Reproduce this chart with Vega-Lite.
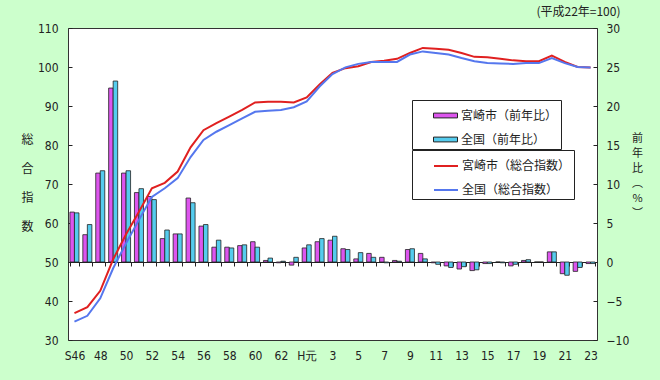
{
  "$schema": "https://vega.github.io/schema/vega-lite/v6.json",
  "width": 529,
  "height": 312,
  "autosize": {"type": "none"},
  "padding": {"left": 68, "top": 28, "right": 63, "bottom": 40},
  "background": "#CCFFCC",
  "config": {
    "view": {"stroke": "#333", "strokeWidth": 1, "fill": "#ffffff"},
    "font": "Noto Sans CJK JP"
  },
  "title": {
    "text": "(平成22年=100)",
    "anchor": "end",
    "dx": -22,
    "offset": 3,
    "font": "Noto Sans CJK JP",
    "fontSize": 12,
    "fontWeight": "normal",
    "color": "#222"
  },
  "datasets": {
    "bars": [
      {"year": "S46", "series": "宮崎市（前年比）", "value": 6.4}, {"year": "S46", "series": "全国（前年比）", "value": 6.3},
      {"year": "47", "series": "宮崎市（前年比）", "value": 3.5}, {"year": "47", "series": "全国（前年比）", "value": 4.8},
      {"year": "48", "series": "宮崎市（前年比）", "value": 11.4}, {"year": "48", "series": "全国（前年比）", "value": 11.7},
      {"year": "49", "series": "宮崎市（前年比）", "value": 22.3}, {"year": "49", "series": "全国（前年比）", "value": 23.2},
      {"year": "50", "series": "宮崎市（前年比）", "value": 11.4}, {"year": "50", "series": "全国（前年比）", "value": 11.7},
      {"year": "51", "series": "宮崎市（前年比）", "value": 8.9}, {"year": "51", "series": "全国（前年比）", "value": 9.4},
      {"year": "52", "series": "宮崎市（前年比）", "value": 8.4}, {"year": "52", "series": "全国（前年比）", "value": 8.0},
      {"year": "53", "series": "宮崎市（前年比）", "value": 3.0}, {"year": "53", "series": "全国（前年比）", "value": 4.1},
      {"year": "54", "series": "宮崎市（前年比）", "value": 3.6}, {"year": "54", "series": "全国（前年比）", "value": 3.6},
      {"year": "55", "series": "宮崎市（前年比）", "value": 8.2}, {"year": "55", "series": "全国（前年比）", "value": 7.6},
      {"year": "56", "series": "宮崎市（前年比）", "value": 4.6}, {"year": "56", "series": "全国（前年比）", "value": 4.8},
      {"year": "57", "series": "宮崎市（前年比）", "value": 1.9}, {"year": "57", "series": "全国（前年比）", "value": 2.8},
      {"year": "58", "series": "宮崎市（前年比）", "value": 1.9}, {"year": "58", "series": "全国（前年比）", "value": 1.8},
      {"year": "59", "series": "宮崎市（前年比）", "value": 2.1}, {"year": "59", "series": "全国（前年比）", "value": 2.2},
      {"year": "60", "series": "宮崎市（前年比）", "value": 2.6}, {"year": "60", "series": "全国（前年比）", "value": 1.9},
      {"year": "61", "series": "宮崎市（前年比）", "value": 0.2}, {"year": "61", "series": "全国（前年比）", "value": 0.5},
      {"year": "62", "series": "宮崎市（前年比）", "value": -0.1}, {"year": "62", "series": "全国（前年比）", "value": 0.1},
      {"year": "63", "series": "宮崎市（前年比）", "value": -0.4}, {"year": "63", "series": "全国（前年比）", "value": 0.6},
      {"year": "H元", "series": "宮崎市（前年比）", "value": 1.8}, {"year": "H元", "series": "全国（前年比）", "value": 2.2},
      {"year": "2", "series": "宮崎市（前年比）", "value": 2.6}, {"year": "2", "series": "全国（前年比）", "value": 3.0},
      {"year": "3", "series": "宮崎市（前年比）", "value": 2.8}, {"year": "3", "series": "全国（前年比）", "value": 3.3},
      {"year": "4", "series": "宮崎市（前年比）", "value": 1.7}, {"year": "4", "series": "全国（前年比）", "value": 1.6},
      {"year": "5", "series": "宮崎市（前年比）", "value": 0.4}, {"year": "5", "series": "全国（前年比）", "value": 1.2},
      {"year": "6", "series": "宮崎市（前年比）", "value": 1.1}, {"year": "6", "series": "全国（前年比）", "value": 0.6},
      {"year": "7", "series": "宮崎市（前年比）", "value": 0.6}, {"year": "7", "series": "全国（前年比）", "value": -0.1},
      {"year": "8", "series": "宮崎市（前年比）", "value": 0.2}, {"year": "8", "series": "全国（前年比）", "value": 0.1},
      {"year": "9", "series": "宮崎市（前年比）", "value": 1.6}, {"year": "9", "series": "全国（前年比）", "value": 1.7},
      {"year": "10", "series": "宮崎市（前年比）", "value": 1.1}, {"year": "10", "series": "全国（前年比）", "value": 0.4},
      {"year": "11", "series": "宮崎市（前年比）", "value": -0.1}, {"year": "11", "series": "全国（前年比）", "value": -0.3},
      {"year": "12", "series": "宮崎市（前年比）", "value": -0.5}, {"year": "12", "series": "全国（前年比）", "value": -0.7},
      {"year": "13", "series": "宮崎市（前年比）", "value": -0.9}, {"year": "13", "series": "全国（前年比）", "value": -0.6},
      {"year": "14", "series": "宮崎市（前年比）", "value": -1.1}, {"year": "14", "series": "全国（前年比）", "value": -1.0},
      {"year": "15", "series": "宮崎市（前年比）", "value": -0.2}, {"year": "15", "series": "全国（前年比）", "value": -0.2},
      {"year": "16", "series": "宮崎市（前年比）", "value": 0.0}, {"year": "16", "series": "全国（前年比）", "value": -0.1},
      {"year": "17", "series": "宮崎市（前年比）", "value": -0.5}, {"year": "17", "series": "全国（前年比）", "value": -0.3},
      {"year": "18", "series": "宮崎市（前年比）", "value": 0.2}, {"year": "18", "series": "全国（前年比）", "value": 0.3},
      {"year": "19", "series": "宮崎市（前年比）", "value": 0.0}, {"year": "19", "series": "全国（前年比）", "value": 0.0},
      {"year": "20", "series": "宮崎市（前年比）", "value": 1.3}, {"year": "20", "series": "全国（前年比）", "value": 1.3},
      {"year": "21", "series": "宮崎市（前年比）", "value": -1.5}, {"year": "21", "series": "全国（前年比）", "value": -1.7},
      {"year": "22", "series": "宮崎市（前年比）", "value": -1.2}, {"year": "22", "series": "全国（前年比）", "value": -0.7},
      {"year": "23", "series": "宮崎市（前年比）", "value": -0.2}, {"year": "23", "series": "全国（前年比）", "value": -0.2}
    ],
    "lines": [
      {"year": "S46", "series": "宮崎市（総合指数）", "value": 36.9},
      {"year": "47", "series": "宮崎市（総合指数）", "value": 38.4},
      {"year": "48", "series": "宮崎市（総合指数）", "value": 42.6},
      {"year": "49", "series": "宮崎市（総合指数）", "value": 50.7},
      {"year": "50", "series": "宮崎市（総合指数）", "value": 57.1},
      {"year": "51", "series": "宮崎市（総合指数）", "value": 62.9},
      {"year": "52", "series": "宮崎市（総合指数）", "value": 68.9},
      {"year": "53", "series": "宮崎市（総合指数）", "value": 70.3},
      {"year": "54", "series": "宮崎市（総合指数）", "value": 73.2},
      {"year": "55", "series": "宮崎市（総合指数）", "value": 79.4},
      {"year": "56", "series": "宮崎市（総合指数）", "value": 83.8},
      {"year": "57", "series": "宮崎市（総合指数）", "value": 85.6},
      {"year": "58", "series": "宮崎市（総合指数）", "value": 87.3},
      {"year": "59", "series": "宮崎市（総合指数）", "value": 89.0},
      {"year": "60", "series": "宮崎市（総合指数）", "value": 90.9},
      {"year": "61", "series": "宮崎市（総合指数）", "value": 91.1},
      {"year": "62", "series": "宮崎市（総合指数）", "value": 91.1},
      {"year": "63", "series": "宮崎市（総合指数）", "value": 90.9},
      {"year": "H元", "series": "宮崎市（総合指数）", "value": 92.2},
      {"year": "2", "series": "宮崎市（総合指数）", "value": 95.5},
      {"year": "3", "series": "宮崎市（総合指数）", "value": 98.5},
      {"year": "4", "series": "宮崎市（総合指数）", "value": 99.7},
      {"year": "5", "series": "宮崎市（総合指数）", "value": 100.2},
      {"year": "6", "series": "宮崎市（総合指数）", "value": 101.3},
      {"year": "7", "series": "宮崎市（総合指数）", "value": 101.6},
      {"year": "8", "series": "宮崎市（総合指数）", "value": 102.1},
      {"year": "9", "series": "宮崎市（総合指数）", "value": 103.6},
      {"year": "10", "series": "宮崎市（総合指数）", "value": 104.9},
      {"year": "11", "series": "宮崎市（総合指数）", "value": 104.7},
      {"year": "12", "series": "宮崎市（総合指数）", "value": 104.4},
      {"year": "13", "series": "宮崎市（総合指数）", "value": 103.6},
      {"year": "14", "series": "宮崎市（総合指数）", "value": 102.6},
      {"year": "15", "series": "宮崎市（総合指数）", "value": 102.5},
      {"year": "16", "series": "宮崎市（総合指数）", "value": 102.1},
      {"year": "17", "series": "宮崎市（総合指数）", "value": 101.7},
      {"year": "18", "series": "宮崎市（総合指数）", "value": 101.5},
      {"year": "19", "series": "宮崎市（総合指数）", "value": 101.5},
      {"year": "20", "series": "宮崎市（総合指数）", "value": 102.9},
      {"year": "21", "series": "宮崎市（総合指数）", "value": 101.3},
      {"year": "22", "series": "宮崎市（総合指数）", "value": 100.0},
      {"year": "23", "series": "宮崎市（総合指数）", "value": 99.9},
      {"year": "S46", "series": "全国（総合指数）", "value": 34.7},
      {"year": "47", "series": "全国（総合指数）", "value": 36.2},
      {"year": "48", "series": "全国（総合指数）", "value": 40.7},
      {"year": "49", "series": "全国（総合指数）", "value": 48.4},
      {"year": "50", "series": "全国（総合指数）", "value": 54.8},
      {"year": "51", "series": "全国（総合指数）", "value": 60.8},
      {"year": "52", "series": "全国（総合指数）", "value": 66.7},
      {"year": "53", "series": "全国（総合指数）", "value": 68.9},
      {"year": "54", "series": "全国（総合指数）", "value": 71.5},
      {"year": "55", "series": "全国（総合指数）", "value": 76.9},
      {"year": "56", "series": "全国（総合指数）", "value": 81.3},
      {"year": "57", "series": "全国（総合指数）", "value": 83.4},
      {"year": "58", "series": "全国（総合指数）", "value": 85.1},
      {"year": "59", "series": "全国（総合指数）", "value": 86.8},
      {"year": "60", "series": "全国（総合指数）", "value": 88.5},
      {"year": "61", "series": "全国（総合指数）", "value": 88.8},
      {"year": "62", "series": "全国（総合指数）", "value": 89.0},
      {"year": "63", "series": "全国（総合指数）", "value": 89.7},
      {"year": "H元", "series": "全国（総合指数）", "value": 91.2},
      {"year": "2", "series": "全国（総合指数）", "value": 95.0},
      {"year": "3", "series": "全国（総合指数）", "value": 98.2},
      {"year": "4", "series": "全国（総合指数）", "value": 99.9},
      {"year": "5", "series": "全国（総合指数）", "value": 100.8},
      {"year": "6", "series": "全国（総合指数）", "value": 101.3},
      {"year": "7", "series": "全国（総合指数）", "value": 101.3},
      {"year": "8", "series": "全国（総合指数）", "value": 101.3},
      {"year": "9", "series": "全国（総合指数）", "value": 103.2},
      {"year": "10", "series": "全国（総合指数）", "value": 104.0},
      {"year": "11", "series": "全国（総合指数）", "value": 103.6},
      {"year": "12", "series": "全国（総合指数）", "value": 103.2},
      {"year": "13", "series": "全国（総合指数）", "value": 102.3},
      {"year": "14", "series": "全国（総合指数）", "value": 101.5},
      {"year": "15", "series": "全国（総合指数）", "value": 101.0},
      {"year": "16", "series": "全国（総合指数）", "value": 100.9},
      {"year": "17", "series": "全国（総合指数）", "value": 100.8},
      {"year": "18", "series": "全国（総合指数）", "value": 101.0},
      {"year": "19", "series": "全国（総合指数）", "value": 101.0},
      {"year": "20", "series": "全国（総合指数）", "value": 102.3},
      {"year": "21", "series": "全国（総合指数）", "value": 101.0},
      {"year": "22", "series": "全国（総合指数）", "value": 100.0},
      {"year": "23", "series": "全国（総合指数）", "value": 99.9}
    ]
  },
  "encoding": {
    "x": {
      "field": "year",
      "type": "nominal",
      "scale": {
        "domain": ["S46","47","48","49","50","51","52","53","54","55","56","57","58","59","60","61","62","63","H元","2","3","4","5","6","7","8","9","10","11","12","13","14","15","16","17","18","19","20","21","22","23"],
        "paddingInner": 0.3,
        "paddingOuter": 0.15
      },
      "axis": {
        "title": null,
        "orient": "bottom",
        "offset": -78,
        "domain": true,
        "domainColor": "#222",
        "domainWidth": 1,
        "ticks": true,
        "tickColor": "#222",
        "tickSize": 4,
        "tickBand": "extent",
        "grid": false,
        "labelAngle": 0,
        "labelPadding": 84,
        "labelFont": "Liberation Sans Narrow, DejaVu Sans Condensed, sans-serif",
        "labelFontSize": 12,
        "labelColor": "#222",
        "labelExpr": "indexof(['S46','48','50','52','54','56','58','60','62','H元','3','5','7','9','11','13','15','17','19','21','23'], datum.value) >= 0 ? datum.value : ''"
      }
    }
  },
  "layer": [
    {
      "data": {"name": "bars"},
      "mark": {"type": "bar", "stroke": "#222", "strokeWidth": 0.8},
      "encoding": {
        "xOffset": {"field": "series", "type": "nominal", "scale": {"domain": ["宮崎市（前年比）", "全国（前年比）"]}},
        "y": {
          "field": "value",
          "type": "quantitative",
          "scale": {"domain": [-10, 30], "nice": false, "zero": false},
          "axis": {
            "orient": "right",
            "values": [-10, -5, 0, 5, 10, 15, 20, 25, 30],
            "grid": false,
            "domain": false,
            "tickSize": -4,
            "tickColor": "#222",
            "labelPadding": 13,
            "labelFont": "Liberation Sans Narrow, DejaVu Sans Condensed, sans-serif",
            "labelFontSize": 12,
            "labelColor": "#222",
            "title": ["前", "年", "比", "︵", "%", "︶"],
            "titleAngle": 0,
            "titleFont": "Noto Sans CJK JP",
            "titleFontSize": 11,
            "titleFontWeight": "normal",
            "titleColor": "#222",
            "titleLineHeight": 15,
            "titleAlign": "center",
            "titleBaseline": "top",
            "titleX": 40,
            "titleY": 104
          }
        },
        "fill": {
          "field": "series",
          "type": "nominal",
          "scale": {
            "domain": ["宮崎市（前年比）", "全国（前年比）"],
            "range": ["#DD55EE", "#55CCEE"]
          },
          "legend": {
            "orient": "none",
            "legendX": 344,
            "legendY": 72,
            "title": null,
            "strokeColor": "#222",
            "fillColor": "#ffffff",
            "padding": 3,
            "symbolType": "M-1,-0.2H1V0.2H-1Z",
            "symbolSize": 576,
            "symbolOffset": 18,
            "symbolStrokeColor": "#222",
            "symbolStrokeWidth": 1,
            "rowPadding": 5,
            "labelFont": "Noto Sans CJK JP",
            "labelFontSize": 12,
            "labelColor": "#222",
            "labelOffset": 3,
            "labelExpr": "datum.label + '　　　'"
          }
        }
      }
    },
    {
      "data": {"name": "lines"},
      "mark": {"type": "line", "strokeWidth": 2},
      "encoding": {
        "y": {
          "field": "value",
          "type": "quantitative",
          "scale": {"domain": [30, 110], "nice": false, "zero": false},
          "axis": {
            "orient": "left",
            "values": [30, 40, 50, 60, 70, 80, 90, 100, 110],
            "grid": false,
            "domain": false,
            "tickSize": -4,
            "tickColor": "#222",
            "labelPadding": 14,
            "labelFont": "Liberation Sans Narrow, DejaVu Sans Condensed, sans-serif",
            "labelFontSize": 12,
            "labelColor": "#222",
            "title": ["総", "合", "指", "数"],
            "titleAngle": 0,
            "titleFont": "Noto Sans CJK JP",
            "titleFontSize": 12,
            "titleFontWeight": "normal",
            "titleColor": "#222",
            "titleLineHeight": 29,
            "titleAlign": "center",
            "titleBaseline": "top",
            "titleX": -41,
            "titleY": 106
          }
        },
        "stroke": {
          "field": "series",
          "type": "nominal",
          "scale": {
            "domain": ["宮崎市（総合指数）", "全国（総合指数）"],
            "range": ["#E02020", "#5577EE"]
          },
          "legend": {
            "orient": "none",
            "legendX": 344,
            "legendY": 122,
            "title": null,
            "strokeColor": "#222",
            "fillColor": "#ffffff",
            "padding": 3,
            "symbolType": "stroke",
            "symbolSize": 576,
            "symbolOffset": 18,
            "symbolStrokeWidth": 2,
            "rowPadding": 5,
            "labelFont": "Noto Sans CJK JP",
            "labelFontSize": 12,
            "labelColor": "#222",
            "labelOffset": 3,
            "labelExpr": "datum.label + '　　'"
          }
        }
      }
    }
  ],
  "resolve": {"scale": {"y": "independent"}}
}
